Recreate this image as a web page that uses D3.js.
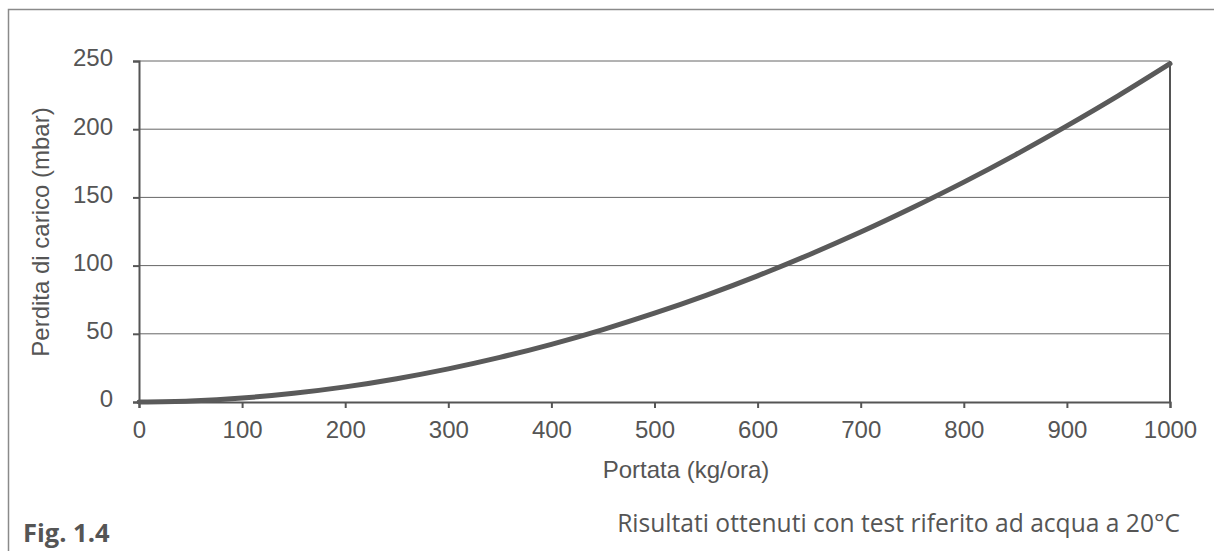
<!DOCTYPE html>
<html><head><meta charset="utf-8">
<script src="https://cdn.jsdelivr.net/npm/d3@7"></script>
<style>html,body{margin:0;padding:0;background:#fff;}svg{display:block;}</style>
</head><body>
<script>
const flowRate = [0,50,100,150,200,250,300,350,400,450,500,550,600,650,700,750,800,850,900,950,1000];
const pressureDrop = [0,0.8,2.9,6.4,11.1,17.1,24.3,32.7,42.3,53.1,65.1,78.2,92.5,108,124.6,142.4,161.2,181.2,202.4,224.6,248];
const xTicks = [0,100,200,300,400,500,600,700,800,900,1000];
const yTicks = [0,50,100,150,200,250];
const xTitle = "Portata (kg/ora)";
const yTitle = "Perdita di carico (mbar)";
const figLabel = "Fig. 1.4";
const note = "Risultati ottenuti con test riferito ad acqua a 20°C";

const W=1214,H=551;
const svg=d3.select("body").append("svg").attr("width",W).attr("height",H);
// outer frame
svg.append("path").attr("d","M8.5,551 V9.5 H1214").attr("fill","none").attr("stroke","#8a8a8a").attr("stroke-width",1.5);

const x=d3.scaleLinear().domain([0,1000]).range([139,1170]);
const y=d3.scaleLinear().domain([0,250]).range([402,61]);

const g=svg.append("g");
// gridlines
g.selectAll(".grid").data(yTicks.filter(d=>d>0)).enter().append("line")
 .attr("x1",x(0)).attr("x2",x(1000)).attr("y1",d=>y(d)).attr("y2",d=>y(d))
 .attr("stroke","#666").attr("stroke-width",1);
// right border
g.append("line").attr("x1",x(1000)).attr("x2",x(1000)).attr("y1",y(250)).attr("y2",y(0)).attr("stroke","#555").attr("stroke-width",2);

const font="'Liberation Sans', Arial, sans-serif";
const yAxis=g.append("g").attr("transform",`translate(${x(0)},0)`)
 .call(d3.axisLeft(y).tickValues(yTicks).tickFormat(d3.format("d")).tickSize(6).tickPadding(20));
const xAxis=g.append("g").attr("transform",`translate(0,${y(0)})`)
 .call(d3.axisBottom(x).tickValues(xTicks).tickFormat(d3.format("d")).tickSize(6).tickPadding(13));
[yAxis,xAxis].forEach(a=>{
  a.select(".domain").attr("stroke","#555").attr("stroke-width",2);
  a.selectAll(".tick line").attr("stroke","#555").attr("stroke-width",2);
  a.selectAll("text").attr("fill","#555").style("font-family",font).style("font-size","24px");
});
yAxis.selectAll("text").attr("dy","0.2em");

const line=d3.line().x((d,i)=>x(flowRate[i])).y(d=>y(d)).curve(d3.curveMonotoneX);
g.append("path").datum(pressureDrop).attr("d",line).attr("fill","none")
 .attr("stroke","#5a5a5a").attr("stroke-width",5).attr("stroke-linecap","round");

svg.append("text").attr("x",686).attr("y",478).attr("text-anchor","middle")
 .attr("fill","#555").style("font-family",font).style("font-size","24px").text(xTitle);
svg.append("text").attr("transform",`translate(48.5,232) rotate(-90)`).attr("text-anchor","middle")
 .attr("fill","#555").style("font-family",font).style("font-size","24px").text(yTitle);

svg.append("text").attr("x",23).attr("y",542).attr("fill","#555")
 .style("font-family","'Open Sans', sans-serif").style("font-weight","bold").style("font-size","25.5px").text(figLabel);
svg.append("text").attr("x",1180).attr("y",532).attr("text-anchor","end").attr("fill","#555")
 .style("font-family","'Open Sans', sans-serif").style("font-size","24.6px").text(note);
</script>
</body></html>
